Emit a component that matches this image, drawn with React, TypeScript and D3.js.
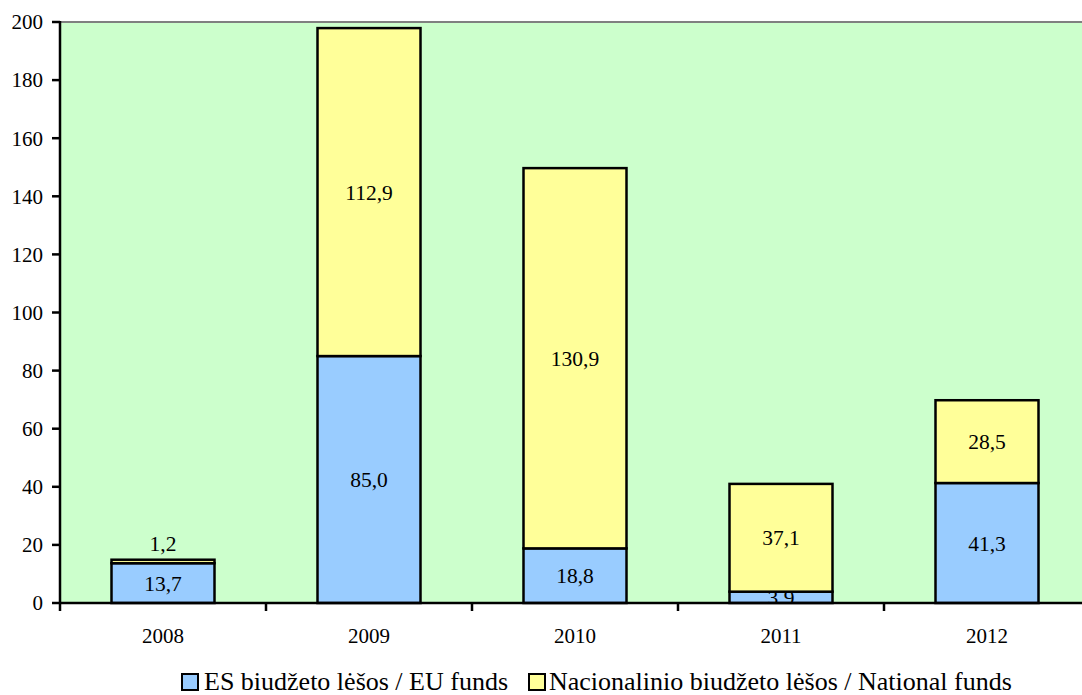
import React from 'react';
import * as d3 from 'd3';

const years = ['2008', '2009', '2010', '2011', '2012'];
const euFunds = [13.7, 85.0, 18.8, 3.9, 41.3];
const nationalFunds = [1.2, 112.9, 130.9, 37.1, 28.5];
const yTicks = [0, 20, 40, 60, 80, 100, 120, 140, 160, 180, 200];
const seriesNames = ['ES biudžeto lėšos / EU funds', 'Nacionalinio biudžeto lėšos / National funds'];
const seriesColors = ['#99CCFF', '#FFFF99'];

const width = 1082;
const height = 695;
const margin = { top: 22, right: -8, bottom: 92, left: 60 };
const font = 'Liberation Serif, Times New Roman, serif';

export default function App() {
  const x = d3
    .scaleBand()
    .domain(years)
    .range([margin.left, width - margin.right])
    .paddingInner(0.5)
    .paddingOuter(0.25);

  const y = d3
    .scaleLinear()
    .domain([0, 200])
    .range([height - margin.bottom, margin.top]);

  const rows = years.map((yr, i) => ({ year: yr, eu: euFunds[i], nat: nationalFunds[i] }));
  const stack = d3.stack<any>().keys(['eu', 'nat'])(rows);

  const step = x.step();
  const x0 = margin.left;
  const x1 = width - margin.right;
  const fmt = (v: number) => v.toFixed(1).replace('.', ',');

  return (
    <svg
      width={width}
      height={height}
      style={{ position: 'absolute', left: 0, top: 0, fontFamily: font }}
    >
      <defs>
        <clipPath id="plotClip">
          <rect x={x0} y={0} width={x1 - x0} height={y(0)} />
        </clipPath>
      </defs>
      <rect x={x0} y={y(200)} width={x1 - x0} height={y(0) - y(200)} fill="#CCFFCC" />
      <line x1={x0} x2={x1} y1={y(200)} y2={y(200)} stroke="#808080" strokeWidth={2} />

      {stack.map((layer, li) =>
        layer.map((d, i) => (
          <rect
            key={`${li}-${i}`}
            x={x(years[i])}
            y={y(d[1])}
            width={x.bandwidth()}
            height={y(d[0]) - y(d[1])}
            fill={seriesColors[li]}
            stroke="#000"
            strokeWidth={2.5}
          />
        ))
      )}

      {/* data labels, clipped at the axis like the original */}
      <g clipPath="url(#plotClip)">
        {stack.map((layer, li) =>
          layer.map((d, i) => {
            const h = y(d[0]) - y(d[1]);
            const above = li === 1 && h < 10;
            const cy = above ? y(d[1]) - 16 : (y(d[0]) + y(d[1])) / 2;
            return (
              <text
                key={`l-${li}-${i}`}
                x={(x(years[i]) as number) + x.bandwidth() / 2}
                y={cy}
                dy="0.35em"
                textAnchor="middle"
                fontSize={21.5}
                fill="#000"
              >
                {fmt(d[1] - d[0])}
              </text>
            );
          })
        )}
      </g>

      {/* y axis */}
      <line x1={x0} x2={x0} y1={y(200) - 1} y2={y(0)} stroke="#000" strokeWidth={2.5} />
      {yTicks.map((t) => (
        <g key={t}>
          <line x1={x0 - 8} x2={x0} y1={y(t)} y2={y(t)} stroke="#000" strokeWidth={2.5} />
          <text x={x0 - 17} y={y(t)} dy="0.35em" textAnchor="end" fontSize={21}>
            {t}
          </text>
        </g>
      ))}

      {/* x axis */}
      <line x1={x0} x2={x1} y1={y(0)} y2={y(0)} stroke="#000" strokeWidth={2.5} />
      {d3.range(years.length + 1).map((k) => (
        <line key={k} x1={x0 + k * step} x2={x0 + k * step} y1={y(0)} y2={y(0) + 8} stroke="#000" strokeWidth={2.5} />
      ))}
      {years.map((yr) => (
        <text key={yr} x={(x(yr) as number) + x.bandwidth() / 2} y={643} textAnchor="middle" fontSize={21}>
          {yr}
        </text>
      ))}

      {/* legend */}
      <g fontSize={26}>
        <rect x={182} y={674} width={16} height={16} fill={seriesColors[0]} stroke="#000" strokeWidth={2} />
        <text x={204} y={690}>{seriesNames[0]}</text>
        <rect x={529} y={674} width={16} height={16} fill={seriesColors[1]} stroke="#000" strokeWidth={2} />
        <text x={549} y={690}>{seriesNames[1]}</text>
      </g>
    </svg>
  );
}
